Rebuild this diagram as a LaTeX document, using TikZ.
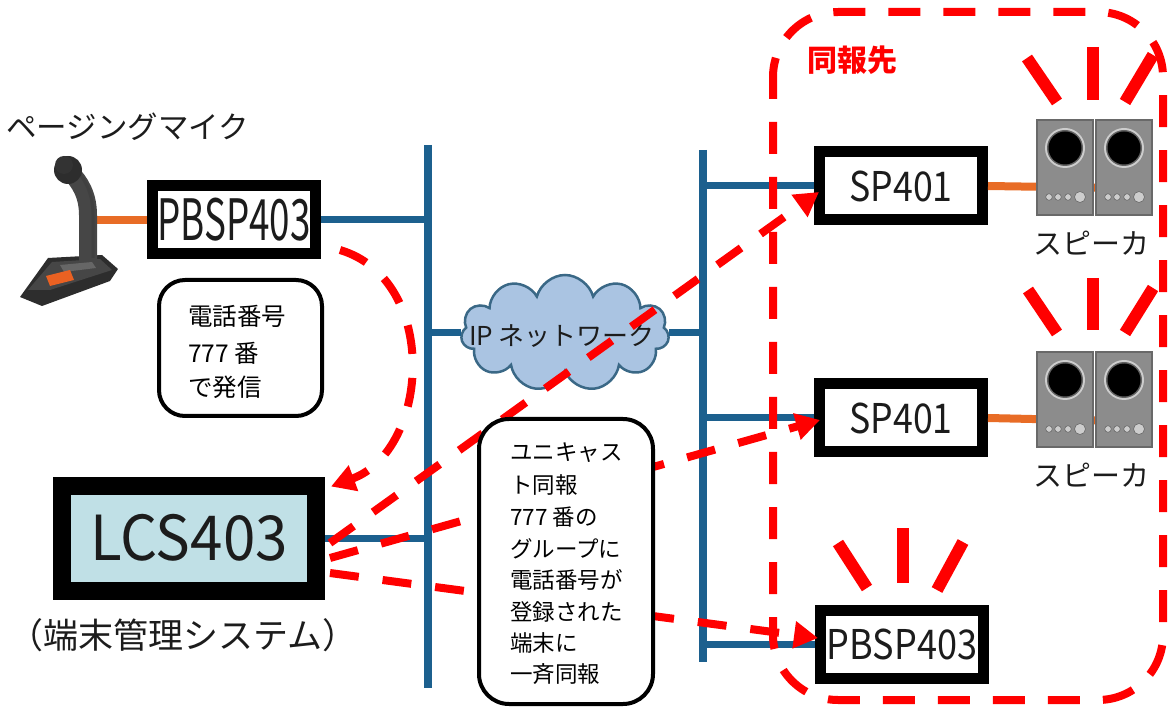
\documentclass[tikz,border=0pt]{standalone}
\usepackage{fontspec}
\setmainfont{Noto Sans CJK JP}
\usetikzlibrary{arrows.meta,shapes.symbols}

\definecolor{busblue}{RGB}{28,96,142}
\definecolor{cableorange}{RGB}{232,108,38}
\definecolor{alertred}{RGB}{255,0,0}
\definecolor{cloudfill}{RGB}{170,196,226}
\definecolor{cloudline}{RGB}{58,104,134}
\definecolor{lcsfill}{RGB}{192,224,230}
\definecolor{inkgray}{RGB}{28,28,28}
\definecolor{cabinet}{RGB}{140,140,140}
\definecolor{cabinetedge}{RGB}{105,105,105}
\definecolor{ringgray}{RGB}{205,205,205}
\definecolor{micdark}{RGB}{45,45,45}
\definecolor{micgray}{RGB}{70,70,70}

\tikzset{
  bus/.style={busblue, line width=8pt},
  link/.style={busblue, line width=7pt},
  cable/.style={cableorange, line width=8pt},
  devbox/.style={draw=black, fill=white, line width=11pt, inner sep=0pt,
    text=inkgray, minimum width=163pt, minimum height=68pt},
  redflow/.style={alertred, line width=8pt, dash pattern=on 29pt off 24pt,
    -{Triangle[length=24pt,width=26pt]}},
  ray/.style={alertred, line width=12pt},
  callout/.style={draw=black, fill=white, line width=4pt, rounded corners=26pt, inner sep=0pt},
  label/.style={text=inkgray, inner sep=0pt},
  noteline/.style={text=black, inner sep=0pt, anchor=west},
  speakerpair/.pic={
    \fill[cabinet, draw=cabinetedge, line width=1.2pt] (0,0) rectangle (56,95);
    \fill[cabinet, draw=cabinetedge, line width=1.2pt] (59,0) rectangle (115,95);
    \foreach \dx in {0,59}{
      \fill[ringgray] (\dx+28,28) circle (20pt);
      \fill[cabinet!70!black] (\dx+28,28) circle (18pt);
      \fill[black] (\dx+28,28) circle (16.5pt);
      \foreach \kx in {12,21,31}{
        \fill[ringgray, draw=cabinetedge, line width=0.6pt] (\dx+\kx,77) circle (3.3pt);
      }
      \fill[ringgray, draw=cabinetedge, line width=0.6pt] (\dx+43,77) circle (5.5pt);
    }
  }
}

\begin{document}
\begin{tikzpicture}[x=1pt,y=-1pt]
\useasboundingbox (0,0) rectangle (1173,708);

% --- network buses ---
\coordinate (lbtop) at (428,145);
\coordinate (lbbot) at (428,688);
\coordinate (rbtop) at (703,150);
\coordinate (rbbot) at (703,662);
\draw[bus] (lbtop) -- (lbbot);
\draw[bus] (rbtop) -- (rbbot);

% --- devices ---
\node[devbox, font=\fontsize{57}{57}\selectfont] (pb1) at (234,220) {\scalebox{0.645}[1]{PBSP403}};
\node[devbox, line width=18pt, fill=lcsfill, minimum width=254pt, minimum height=105pt,
      font=\fontsize{62}{62}\selectfont] (lcs) at (189,538) {\scalebox{0.94}[1]{LCS403}};
\node[devbox, font=\fontsize{41}{41}\selectfont] (sp1) at (901,186) {\scalebox{0.87}[1]{SP401}};
\node[devbox, font=\fontsize{41}{41}\selectfont] (sp2) at (901,418) {\scalebox{0.87}[1]{SP401}};
\node[devbox, font=\fontsize{41}{41}\selectfont] (pb2) at (902,644) {\scalebox{0.88}[1]{PBSP403}};

% --- IP network cloud ---
\node[cloud, cloud puffs=11, aspect=1.8, draw=cloudline, fill=cloudfill, line width=2.5pt,
      minimum width=208pt, minimum height=116pt, inner sep=0pt] (net) at (565,333) {};
\node[label, font=\fontsize{26}{26}\selectfont] (netlabel) at (562,336) {IP ネットワーク};

% --- LAN links ---
\draw[link] (pb1.east) -- (pb1.east -| lbtop);
\draw[link] (lcs.east) -- (lcs.east -| lbtop);
\draw[link] (net.west -| lbtop) -- (net.west);
\draw[link] (net.east) -- (net.east -| rbtop);
\draw[link] (sp1.west -| rbtop) -- (sp1.west);
\draw[link] (sp2.west -| rbtop) -- (sp2.west);
\draw[link] (pb2.west -| rbtop) -- (pb2.west);

% --- paging microphone ---
\coordinate (micjack) at (97,220);
\draw[cable] (micjack) -- (pb1.west);
\fill[micdark] (20,297) -- (48,258) -- (102,255) -- (118,269) -- (110,281) -- (42,306) -- cycle;
\fill[micgray] (28,290) -- (52,262) -- (100,259) -- (112,270) -- (50,290) -- cycle;
\fill[black!60] (60,265) -- (92,262) -- (96,268) -- (64,272) -- cycle;
\fill[cableorange!90!red] (46,276) -- (70,270) -- (74,280) -- (50,286) -- cycle;
\draw[micgray, line width=18pt] (88,262) -- (88,215) .. controls (88,195) and (80,182) .. (70,172);
\draw[black!75, line width=3pt] (93,258) -- (93,215) .. controls (93,195) and (86,180) .. (76,170);
\fill[micdark] (68,170) circle (14pt);
\fill[black!80] (64,165) circle (9pt);
\node[label, anchor=west, font=\fontsize{30.5}{30.5}\selectfont] (miclabel) at (6,127) {ページングマイク};

% --- speakers ---
\coordinate (spkjack1) at (1120,188);
\coordinate (spkjack2) at (1120,421);
\draw[cable] (sp1.east) -- (spkjack1);
\draw[cable] (sp2.east) -- (spkjack2);
\pic at (1037,120) {speakerpair};
\pic at (1037,352) {speakerpair};
\node[label, font=\fontsize{29}{29}\selectfont] (spklabel1) at (1091,243) {スピーカ};
\node[label, font=\fontsize{29}{29}\selectfont] (spklabel2) at (1091,475) {スピーカ};

% --- sound rays ---
\draw[ray] (1027,58) -- (1057,102);
\draw[ray] (1093,47) -- (1093,100);
\draw[ray] (1153,55) -- (1125,102);
\draw[ray] (1028,290) -- (1057,333);
\draw[ray] (1093,278) -- (1093,330);
\draw[ray] (1153,288) -- (1125,333);
\draw[ray] (838,543) -- (867,588);
\draw[ray] (903,528) -- (903,583);
\draw[ray] (963,542) -- (937,590);

% --- broadcast group ---
\draw[alertred, line width=8pt, dash pattern=on 32pt off 23pt, dash phase=10pt,
      rounded corners=65pt] (773,12) rectangle (1163,700);
\node[alertred, font=\bfseries\fontsize{30}{30}\selectfont, inner sep=0pt] (grouplabel) at (852,60) {同報先};

% --- system label ---
\node[label, font=\fontsize{35}{35}\selectfont] (lcslabel) at (183,635) {（端末管理システム）};

% --- call flow ---
\draw[redflow] ([shift={(19,30)}]pb1.east) .. controls (440,280) and (430,450) .. ([shift={(6,10)}]lcs.north east);
\draw[redflow] ([shift={(5,5)}]lcs.east) -- ([shift={(5,6)}]sp1.west);
\draw[redflow] ([shift={(5,20)}]lcs.east) -- ([shift={(6,2)}]sp2.west);
\draw[redflow] ([shift={(5,35)}]lcs.east) -- ([shift={(3,-6)}]pb2.west);

% --- notes ---
\node[callout, minimum width=163pt, minimum height=136pt] (note1) at (240.5,348) {};
\node[noteline, font=\fontsize{24.5}{24.5}\selectfont] (n1a) at (188,316) {電話番号};
\node[noteline, font=\fontsize{24.5}{24.5}\selectfont] (n1b) at (188,353) {777 番};
\node[noteline, font=\fontsize{24.5}{24.5}\selectfont] (n1c) at (188,387) {で発信};

\node[callout, rounded corners=30pt, minimum width=174pt, minimum height=285pt] (note2) at (566,561.5) {};
\foreach \txt/\yy/\nm in {ユニキャス/453/a, ト同報/485/b, 777 番の/517/c, グループに/549/d,
    電話番号が/580/e, 登録された/612/f, 端末に/643/g, 一斉同報/674/h}{
  \node[noteline, font=\fontsize{22.5}{22.5}\selectfont] (n2\nm) at (510,\yy) {\txt};
}
\end{tikzpicture}
\end{document}
